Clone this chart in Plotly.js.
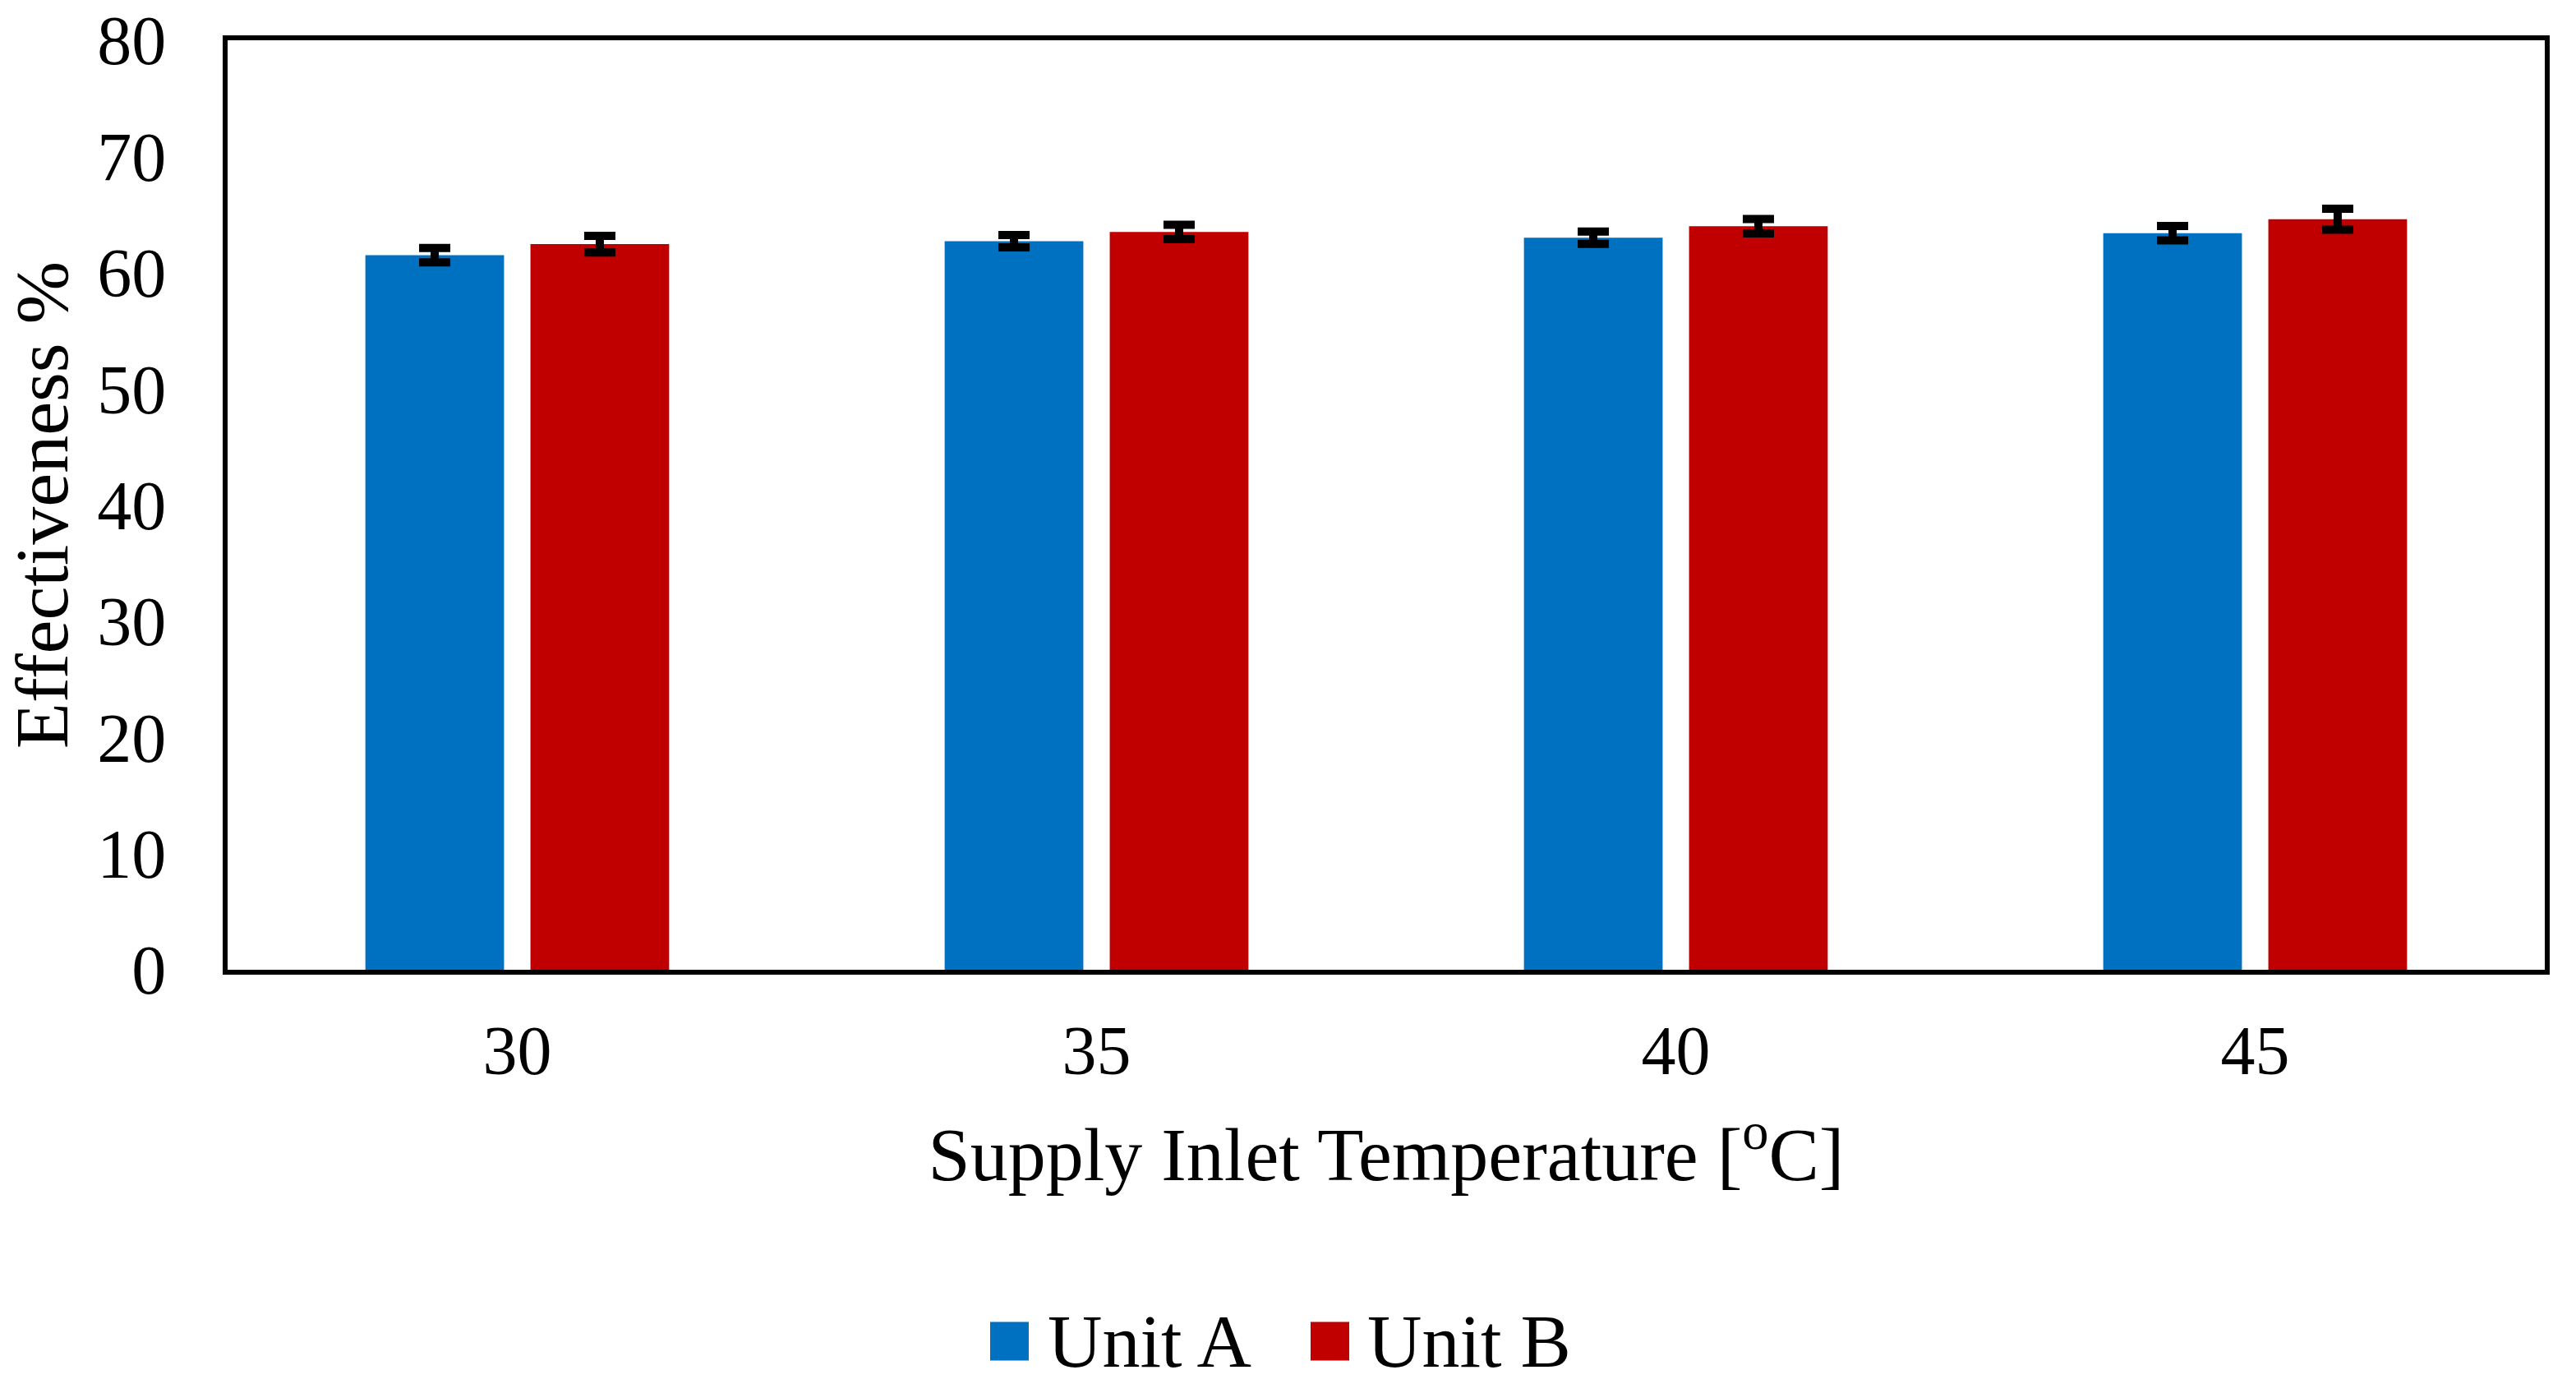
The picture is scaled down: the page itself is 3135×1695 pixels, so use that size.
<!DOCTYPE html>
<html>
<head>
<meta charset="utf-8">
<script src="https://cdn.plot.ly/plotly-3.0.1.min.js"></script>
<style>html,body{margin:0;padding:0;background:#fff;}#chart{width:3135px;height:1695px;}</style>
</head>
<body>
<div id="chart"></div>
<script>
const categories = ["30", "35", "40", "45"];
const seriesNames = ["Unit A", "Unit B"];
const unitA = [61.5, 62.7, 63.0, 63.4];
const unitB = [62.45, 63.5, 64.0, 64.6];
const errA = [0.62, 0.53, 0.53, 0.62];
const errB = [0.72, 0.62, 0.62, 0.9];
const yTicks = [0, 10, 20, 30, 40, 50, 60, 70, 80];
const colors = ["#0070C0", "#C00000"];

const FONT = "'Liberation Serif', 'Times New Roman', serif";
const W = 3135, H = 1695;
const M = {l: 277, r: 38, t: 49, b: 515};
const PW = W - M.l - M.r, PH = H - M.t - M.b;
function px2x(px) { return (px - M.l) / PW; }
function px2y(py) { return (H - M.b - py) / PH; }

const traces = [
  {
    type: "bar", name: seriesNames[0], x: categories, y: unitA,
    marker: {color: colors[0]},
    error_y: {type: "data", array: errA, visible: true, color: "#000000", thickness: 10, width: 19}
  },
  {
    type: "bar", name: seriesNames[1], x: categories, y: unitB,
    marker: {color: colors[1]},
    error_y: {type: "data", array: errB, visible: true, color: "#000000", thickness: 10, width: 19}
  }
];

// Legend drawn as shapes + annotations (large square swatches as in reference)
const legendSwatchLeft = [1205, 1595];
const legendTextLeft = [1273, 1662];
const legendCenterY = 1632;
const swatch = 47;
const shapes = [], annotations = [];
for (let i = 0; i < seriesNames.length; i++) {
  shapes.push({
    type: "rect", xref: "paper", yref: "paper",
    x0: px2x(legendSwatchLeft[i]), x1: px2x(legendSwatchLeft[i] + swatch),
    y0: px2y(legendCenterY + swatch / 2), y1: px2y(legendCenterY - swatch / 2),
    fillcolor: colors[i], line: {width: 0}
  });
  annotations.push({
    xref: "paper", yref: "paper", x: px2x(legendTextLeft[i]), y: px2y(legendCenterY),
    xanchor: "left", yanchor: "middle", showarrow: false, text: seriesNames[i],
    font: {family: FONT, size: 92, color: "#000"}
  });
}

const layout = {
  width: W, height: H,
  margin: {l: M.l, r: M.r, t: M.t, b: M.b, pad: 0},
  paper_bgcolor: "#ffffff", plot_bgcolor: "#ffffff",
  font: {family: FONT, color: "#000000", size: 84},
  barmode: "group", bargap: 0.43, bargroupgap: 0.16,
  showlegend: false,
  shapes: shapes, annotations: annotations,
  xaxis: {
    type: "category",
    showline: true, mirror: true, linewidth: 6, linecolor: "#000",
    showgrid: false, zeroline: false, ticks: "", ticklen: 0,
    tickfont: {family: FONT, size: 84},
    ticklabelstandoff: 20,
    title: {text: "Supply Inlet Temperature [<sup>o</sup>C]", font: {family: FONT, size: 92}, standoff: 50}
  },
  yaxis: {
    range: [0, 80], tickvals: yTicks, ticktext: yTicks.map(String),
    showline: true, mirror: true, linewidth: 6, linecolor: "#000",
    showgrid: false, zeroline: false, ticks: "", ticklen: 0,
    tickfont: {family: FONT, size: 84},
    ticklabelstandoff: 52,
    title: {text: "Effectiveness %", font: {family: FONT, size: 92}, standoff: 66}
  }
};

Plotly.newPlot("chart", traces, layout, {staticPlot: true, displayModeBar: false});
</script>
</body>
</html>
